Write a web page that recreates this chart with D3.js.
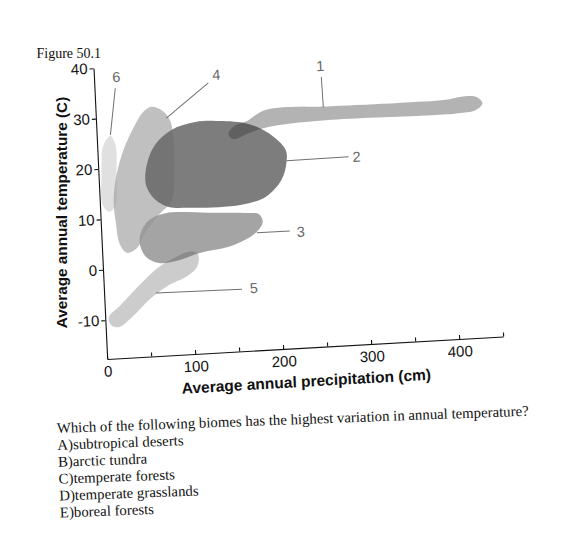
<!DOCTYPE html>
<html><head><meta charset="utf-8">
<script src="https://cdn.jsdelivr.net/npm/d3@7"></script>
<style>
body{margin:0;background:#fff;}
svg{display:block;}
</style></head><body>
<svg id="c" width="562" height="541"></svg>
<script>
// ---------- data (precipitation cm, temperature C) ----------
const precipTicks = [0, 50, 100, 150, 200, 250, 300, 350, 400, 450];
const tempTicks = [-10, 0, 10, 20, 30, 40];
const precipDomain = [0, 450];
const tempDomain = [-17.7, 40];

const blob1 = [[149.4,25.5],[156.6,27.0],[170.5,27.8],[192.6,29.8],[267.6,29.8],[343.7,29.7],[397.1,29.8],[414.2,30.2],[432.4,30.0],[438.9,28.7],[430.6,27.4],[411.2,27.0],[380.5,26.9],[266.9,27.1],[195.1,26.4],[172.1,25.4],[154.9,24.4]];
const blob2 = [[53.5,18.9],[63.8,23.7],[85.0,26.9],[112.6,28.2],[135.3,28.2],[169.3,27.4],[194.8,25.2],[213.3,21.7],[213.8,19.3],[207.2,15.8],[188.3,12.6],[160.6,11.3],[134.5,11.1],[100.4,11.3],[77.8,11.7],[63.4,13.2],[53.9,15.9]];
const blob3 = [[44.8,6.9],[54.5,9.3],[74.1,10.5],[122.8,10.1],[168.2,9.6],[179.5,9.3],[183.6,7.7],[175.1,5.6],[147.3,3.3],[109.5,2.2],[83.1,0.9],[63.7,0.7],[49.3,2.1],[43.1,4.7]];
const blob4 = [[63.5,31.7],[75.8,30.8],[84.3,28.7],[86.8,24.9],[86.4,18.9],[81.5,13.0],[66.1,10.2],[50.5,7.0],[39.5,3.9],[27.9,3.1],[20.4,4.9],[17.0,9.3],[15.8,13.7],[20.4,18.6],[29.6,23.5],[43.3,28.1],[54.2,30.8]];
const blob5 = [[109.3,1.3],[106.6,-0.5],[97.1,-2.0],[70.4,-4.1],[50.5,-6.5],[30.4,-9.7],[15.2,-11.5],[6.2,-11.0],[4.3,-9.4],[16.2,-7.5],[43.4,-3.0],[63.5,-0.1],[83.3,1.7],[98.2,2.6],[107.3,2.3]];
const blob6 = [[15.6,26.4],[20.8,24.6],[20.4,18.6],[17.8,12.7],[10.7,11.4],[3.1,12.8],[3.4,18.8],[7.2,24.7]];

// callouts: label, point on blob, end of leader, label position
const calloutLabels = ["1", "2", "3", "4", "5", "6"];
const calloutStart = [[258.4,29.7],[213.8,19.5],[176.3,5.6],[79.9,29.3],[58.8,-5.2],[15.6,26.6]];
const calloutEnd   = [[257.7,35.7],[284.3,19.6],[213.8,5.6],[129.3,35.8],[156.5,-5.4],[23.6,35.8]];
const calloutText  = [[257.1,37.9],[293.4,19.5],[226.2,5.3],[138.7,37.3],[170.1,-5.3],[25.3,38.0]];

const xTitle = "Average annual precipitation (cm)";
const yTitle = "Average annual temperature (C)";
const figureCaption = "Figure 50.1";
const questionLines = [
  "Which of the following biomes has the highest variation in annual temperature?",
  "A)subtropical deserts",
  "B)arctic tundra",
  "C)temperate forests",
  "D)temperate grasslands",
  "E)boreal forests"
];

// ---------- drawing ----------
const W = 396, H = 290.8;
const x = d3.scaleLinear().domain(precipDomain).range([0, W]);
const y = d3.scaleLinear().domain(tempDomain).range([H, 0]);
const svg = d3.select("#c");
const SANS = "'Liberation Sans', Arial, sans-serif";
const SERIF = "'Liberation Serif', 'Times New Roman', serif";

svg.append("text").attr("x", 36.5).attr("y", 58)
  .attr("font-family", SERIF).attr("font-size", 14).attr("fill", "#111")
  .text(figureCaption);

// tilted plot frame (scanned page)
const g = svg.append("g").attr("transform", "matrix(1,-0.0568,0.047,1,93.5,68.2)");

const shape = d3.line().x(d => x(d[0])).y(d => y(d[1])).curve(d3.curveCatmullRomClosed.alpha(0.5));
const blobs = [
  {d: blob4, fill: "#b9b9b9", op: 0.9},
  {d: blob6, fill: "#a3a3a3", op: 0.333},
  {d: blob2, fill: "#666666", op: 0.85},
  {d: blob1, fill: "#2b2b2b", op: 0.36},
  {d: blob3, fill: "#959595", op: 0.86},
  {d: blob5, fill: "#4f4f4f", op: 0.29}
];
g.selectAll("path.blob").data(blobs).join("path").attr("class", "blob")
  .attr("d", b => shape(b.d)).attr("fill", b => b.fill).attr("fill-opacity", b => b.op);

// callouts
g.selectAll("line.co").data(calloutLabels).join("line").attr("class", "co")
  .attr("x1", (d, i) => x(calloutStart[i][0])).attr("y1", (d, i) => y(calloutStart[i][1]))
  .attr("x2", (d, i) => x(calloutEnd[i][0])).attr("y2", (d, i) => y(calloutEnd[i][1]))
  .attr("stroke", "#6f6f6f").attr("stroke-width", 1);
g.selectAll("text.co").data(calloutLabels).join("text").attr("class", "co")
  .attr("x", (d, i) => x(calloutText[i][0])).attr("y", (d, i) => y(calloutText[i][1]))
  .attr("text-anchor", "middle").attr("dominant-baseline", "central")
  .attr("font-family", SANS).attr("font-size", 14.5).attr("fill", "#666")
  .text(d => d);

// axes
const fmt = d => String(d).replace("\u2212", "-");
const xAxis = g.append("g").attr("transform", `translate(0,${H})`)
  .call(d3.axisBottom(x).tickValues(precipTicks).tickSize(-4).tickSizeOuter(0).tickPadding(7)
    .tickFormat(d => d % 100 === 0 ? fmt(d) : ""));
const yAxis = g.append("g")
  .call(d3.axisLeft(y).tickValues(tempTicks).tickSize(4).tickSizeOuter(0).tickPadding(2)
    .tickFormat(fmt));
[xAxis, yAxis].forEach(a => {
  a.selectAll("text").attr("font-family", SANS).attr("font-size", 15).attr("fill", "#111");
  a.selectAll("line,path").attr("stroke", "#111").attr("stroke-width", 1.1);
});

g.append("text").attr("x", 197.7).attr("y", 329.7).attr("text-anchor", "middle")
  .attr("font-family", SANS).attr("font-weight", "bold").attr("font-size", 15.5).attr("fill", "#111")
  .text(xTitle);

svg.append("text").attr("transform", "translate(61,212.5) rotate(-90)")
  .attr("text-anchor", "middle").attr("dominant-baseline", "central")
  .attr("font-family", SANS).attr("font-weight", "bold").attr("font-size", 15.3).attr("fill", "#111")
  .text(yTitle);

// question text
const q = svg.append("g").attr("transform", "translate(57,433) rotate(-2.1)");
q.selectAll("text").data(questionLines).join("text")
  .attr("x", 0).attr("y", (d, i) => i * 16.9)
  .attr("font-family", SERIF).attr("font-size", 14.8).attr("fill", "#111")
  .text(d => d);
</script>
</body></html>
